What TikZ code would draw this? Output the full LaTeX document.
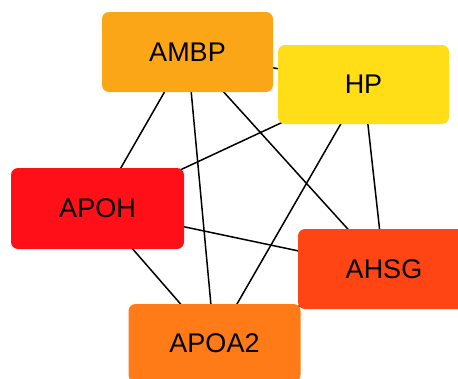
\documentclass[tikz,border=0pt]{standalone}
\usepackage{fontspec}
\setmainfont{Liberation Sans}
\definecolor{cAMBP}{HTML}{FBA616}
\definecolor{cHP}{HTML}{FFDD17}
\definecolor{cAPOH}{HTML}{FF0F17}
\definecolor{cAHSG}{HTML}{FF4514}
\definecolor{cAPOA}{HTML}{FF7B17}
\begin{document}
\begin{tikzpicture}[x=1pt,y=-1pt,
  gene/.style={rectangle,rounded corners=7pt,inner sep=0pt,minimum width=172pt,minimum height=80pt,font=\fontsize{27}{30}\selectfont,text=black},
  edge/.style={line width=1.5pt,black}]
\useasboundingbox (0,0) rectangle (458,378);
\clip (0,0) rectangle (458,378);
\coordinate (cA) at (187.5,52);
\coordinate (cH) at (363.5,84.5);
\coordinate (cP) at (97.5,208.5);
\coordinate (cS) at (384,269);
\coordinate (cO) at (214.5,343);
\draw[edge] (cA) -- (cH);
\draw[edge] (cA) -- (cP);
\draw[edge] (cA) -- (cO);
\draw[edge] (cA) -- (cS);
\draw[edge] (cH) -- (cP);
\draw[edge] (cH) -- (cO);
\draw[edge] (cH) -- (cS);
\draw[edge] (cP) -- (cS);
\draw[edge] (cP) -- (cO);
\draw[edge] (cS) -- (cO);
\node[gene,fill=cAMBP,minimum width=171pt,minimum height=80pt] (AMBP) at (cA) {AMBP};
\node[gene,fill=cHP,minimum width=171pt,minimum height=79pt] (HP) at (cH) {HP};
\node[gene,fill=cAPOH,minimum width=173pt,minimum height=81pt] (APOH) at (cP) {APOH};
\node[gene,fill=cAHSG] (AHSG) at (cS) {AHSG};
\node[gene,fill=cAPOA,minimum height=78pt] (APOA2) at (cO) {APOA2};
\end{tikzpicture}
\end{document}
